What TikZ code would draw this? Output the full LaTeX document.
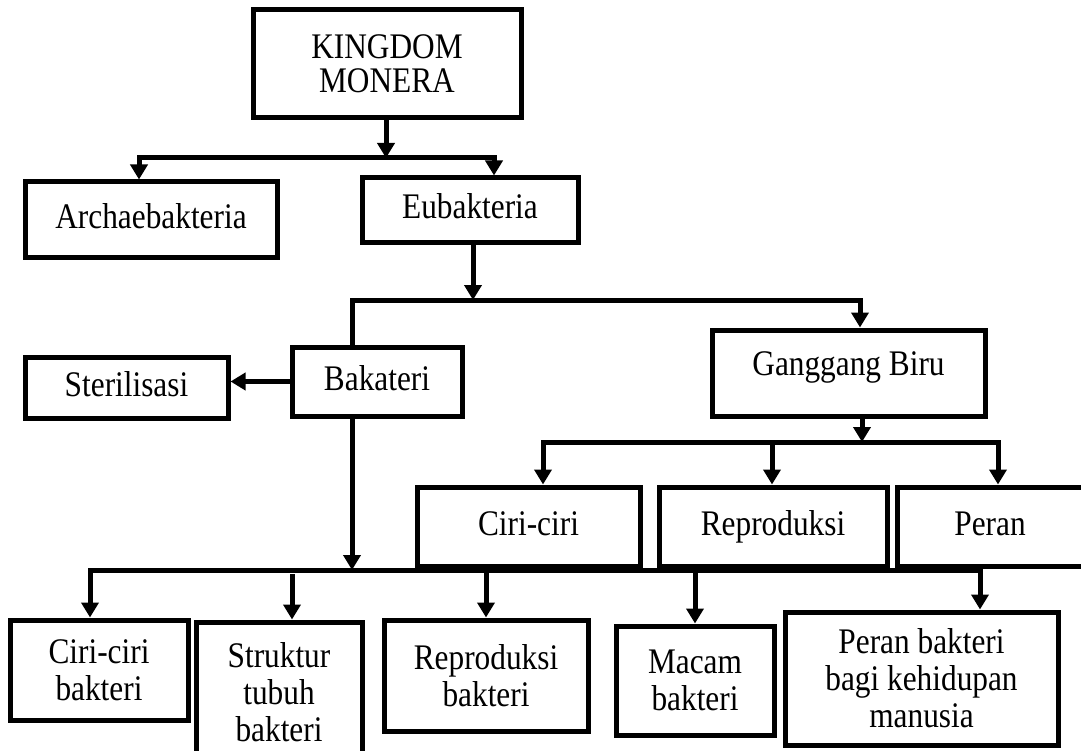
\documentclass[tikz,border=0pt]{standalone}
\usepackage{fontspec}
\setmainfont[FakeStretch=0.87]{Liberation Serif}
\usetikzlibrary{arrows.meta}
\begin{document}
\begin{tikzpicture}[x=1pt,y=-1pt,
  box/.style={draw, line width=5pt, inner sep=0pt, align=center, font=\fontsize{36}{37}\selectfont},
  one/.style={text height=25pt, text depth=8pt},
  ln/.style={line width=5pt, line cap=rect},
  arr/.style={line width=5pt, line cap=rect, -{Triangle[length=15pt,width=17pt]}}]
\useasboundingbox (0,0) rectangle (1081,751);

% nodes
\node[box, minimum width=268pt, minimum height=108pt] (km) at (387,64) {KINGDOM\\[-3pt]MONERA};
\node[box, one, minimum width=252pt, minimum height=76pt] (arch) at (151,220) {Archaebakteria};
\node[box, one, minimum width=216pt, minimum height=65pt] (eub) at (470,210.5) {Eubakteria};
\node[box, one, minimum width=170pt, minimum height=69pt] (bak) at (377,381.5) {Bakateri};
\node[box, one, minimum width=203pt, minimum height=61pt] (ster) at (126.5,387.5) {Sterilisasi};
\node[box, text height=25pt, text depth=20pt, minimum width=273pt, minimum height=86pt] (gang) at (848.5,373) {Ganggang Biru};
\node[box, one, minimum width=223pt, minimum height=79pt] (cc) at (528.5,526.5) {Ciri-ciri};
\node[box, one, minimum width=228pt, minimum height=79pt] (rep) at (773,526.5) {Reproduksi};
\node[box, one, minimum width=200pt, minimum height=79pt] (per) at (997,526.5) {Peran\hspace*{14pt}};
\node[box, minimum width=178pt, minimum height=100pt] (ccb) at (99,670) {Ciri-ciri\\bakteri};
\node[box, minimum width=166pt, minimum height=140pt] (str) at (279,692) {Struktur\\tubuh\\bakteri};
\node[box, minimum width=204pt, minimum height=111pt] (repb) at (486,675.5) {Reproduksi\\bakteri};
\node[box, minimum width=158pt, minimum height=109pt] (mac) at (695,680.5) {Macam\\bakteri};
\node[box, minimum width=273pt, minimum height=133pt] (perb) at (921.5,678.5) {Peran bakteri\\bagi kehidupan\\manusia};

% junction coordinates
\coordinate (j1) at (386,158);
\coordinate (l1) at (139,158);
\coordinate (r1) at (494,158);
\coordinate (j2) at (473,300);
\coordinate (l2) at (352,300);
\coordinate (r2) at (860,300);
\coordinate (j3) at (862,442);
\coordinate (l3) at (543,442);
\coordinate (m3) at (772,442);
\coordinate (r3) at (998,442);
\coordinate (j4) at (352,570);
\coordinate (l4) at (90,570);
\coordinate (r4) at (980,570);
\coordinate (s4) at (292,576);
\coordinate (p4) at (486,575);
\coordinate (q4) at (695,575);

% level 1
\draw[arr] (j1 |- km.south) -- (j1);
\draw[ln] (l1) -- (r1);
\draw[arr] (l1) -- (l1 |- arch.north);
\draw[arr] (r1) -- (r1 |- eub.north);

% level 2
\draw[arr] (j2 |- eub.south) -- (j2);
\draw[ln] (l2) -- (r2);
\draw[ln] (l2) -- (l2 |- bak.north);
\draw[arr] (r2) -- (r2 |- gang.north);
\draw[arr] (bak.west) -- (bak.west -| ster.east);

% ganggang biru children
\draw[arr] (j3 |- gang.south) -- (j3);
\draw[ln] (l3) -- (r3);
\draw[arr] (l3) -- (l3 |- cc.north);
\draw[arr] (m3) -- (m3 |- rep.north);
\draw[arr] (r3) -- (r3 |- per.north);

% bakteri children
\draw[arr] (j4 |- bak.south) -- (j4);
\draw[ln] (l4) -- (r4);
\draw[arr] (l4) -- (l4 |- ccb.north);
\draw[arr] (s4) -- (s4 |- str.north);
\draw[arr] (p4) -- (p4 |- repb.north);
\draw[arr] (q4) -- (q4 |- mac.north);
\draw[arr] (r4) -- (r4 |- perb.north);
\end{tikzpicture}
\end{document}
